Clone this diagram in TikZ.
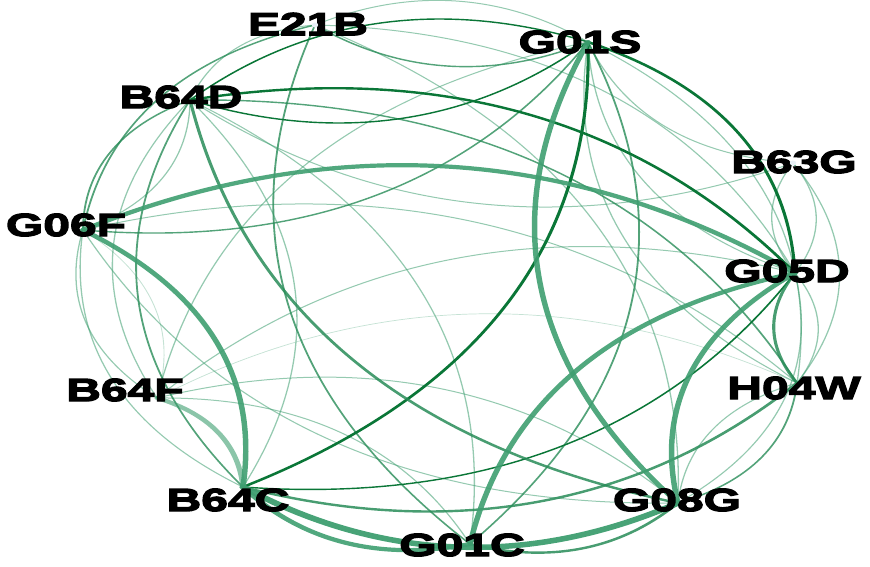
\documentclass[tikz,border=0pt]{standalone}
\usepackage{fontspec}
\newfontfamily\labfont[FakeStretch=1.5,FakeBold=4]{Liberation Sans Bold}
\definecolor{gdk}{RGB}{10,118,55}
\definecolor{gmd}{RGB}{40,140,88}
\definecolor{glt}{RGB}{62,158,112}
\definecolor{dotc}{RGB}{232,240,246}
\tikzset{
  ebase/.style={line cap=round},
  eFaint/.style={ebase, draw=glt, line width=0.7pt, draw opacity=0.3},
  eLight/.style={ebase, draw=glt, line width=1pt, draw opacity=0.55},
  eMed/.style={ebase, draw=gmd, line width=1.4pt, draw opacity=0.8},
  eMedThick/.style={ebase, draw=gmd, line width=2.4pt, draw opacity=0.85},
  eDark/.style={ebase, draw=gdk, line width=1.4pt},
  eDarkThick/.style={ebase, draw=gdk, line width=2.4pt},
  eThick/.style={ebase, draw=glt, line width=4.2pt, draw opacity=0.9},
  eVThick/.style={ebase, draw=glt, line width=5.5pt, draw opacity=0.95},
  eThickLight/.style={ebase, draw=glt, line width=4pt, draw opacity=0.6},
  lab/.style={font=\labfont\fontsize{32}{32}\selectfont, text=black, inner sep=0pt},
  ndot/.style={fill=dotc},
  bL/.style={bend left=32},
  bR/.style={bend right=32}
}
\begin{document}
\begin{tikzpicture}[x=1pt,y=1pt]
\useasboundingbox (0,0) rectangle (870,-566);
\begin{scope}[transform canvas={xscale=1.3}]
  \coordinate (E)  at (242.3,-25);
  \coordinate (S)  at (452.3,-42);
  \coordinate (D)  at (146.2,-100);
  \coordinate (BG) at (610.0,-163);
  \coordinate (F)  at (63.8,-230);
  \coordinate (GD) at (611.5,-273);
  \coordinate (BF) at (120.8,-398);
  \coordinate (H)  at (613.1,-383);
  \coordinate (C)  at (186.9,-487);
  \coordinate (GG) at (521.5,-503);
  \coordinate (GC) at (361.5,-544);
  % faint and light edges
  \draw[eFaint] (F) to[bL] (BF);
  \draw[eFaint] (BF) to[bL] (H);
  \draw[eLight] (F) to[bR] (BF);
  \draw[eLight] (S) to[bR] (E);
  \draw[eLight] (E) to[bR] (D);
  \draw[eLight] (D) to[bL] (F);
  \draw[eLight] (GD) to[bR] (BG);
  \draw[eLight] (GD) to[bL] (BG);
  \draw[eLight] (GD) to[bL] (H);
  \draw[eLight] (S) to[bL] (H);
  \draw[eLight] (S) to[bR] (H);
  \draw[eLight] (BG) to[bL] (S);
  \draw[eLight] (F) to[bL] (H);
  \draw[eLight] (F) to[bR] (C);
  \draw[eLight] (D) to[bL] (C);
  \draw[eLight] (D) to[bR] (BF);
  \draw[eLight] (BF) to[bL] (GG);
  \draw[eLight] (S) to[bR] (BF);
  \draw[eLight] (GD) to[bR] (BF);
  \draw[eLight] (E) to[bL] (GD);
  \draw[eLight] (BG) to[bL] (D);
  \draw[eLight] (F) to[bR] (GG);
  \draw[eLight] (BF) to[bL] (GC);
  \draw[eLight] (D) to[bL] (GC);
  \draw[eLight] (GD) to[bL] (GG);
  \draw[eLight] (BG) to[bL] (H);
  \draw[eLight] (E) to[bL] (GG);
  \draw[eLight] (GG) to[bL] (H);
  \draw[eLight] (GD) to[bL] (S);
  % medium edges
  \draw[eMed] (S) to[bL] (E);
  \draw[eMed] (E) to[bR] (F);
  \draw[eMed] (D) to[bR] (F);
  \draw[eMed] (D) to[bR] (C);
  \draw[eMed] (D) to[bL] (H);
  \draw[eMed] (S) to[bL] (GC);
  \draw[eMed] (S) to[bL] (F);
  \draw[eMed] (E) to[bR] (GC);
  \draw[eMed] (GG) to[bR] (H);
  % dark edges
  \draw[eDark] (S) to[bR] (D);
  \draw[eDark] (S) to[bL] (D);
  \draw[eDark] (GD) to[bL] (C);
  \draw[eDarkThick] (GD) to[bR] (D);
  \draw[eDarkThick] (GD) to[bR] (S);
  \draw[eDarkThick] (S) to[bL] (C);
  % thicker edges
  \draw[eMedThick] (D) to[bR] (GG);
  \draw[eMedThick] (GC) to[bR] (GG);
  \draw[eMedThick] (GD) to[bR] (H);
  \draw[eMedThick] (C) to[bR] (H);
  \draw[eThickLight] (BF) to[bL] (C);
  \draw[eThick] (S) to[bR] (GG);
  \draw[eThick] (GD) to[bR] (GC);
  \draw[eThick] (C) to[bR] (GC);
  \draw[eThick] (F) to[bL] (C);
  \draw[eThick] (GD) to[bR] (GG);
  \draw[eThick] (GD) to[bR] (F);
  \draw[eVThick] (C) to[bR] (GG);
\end{scope}
\node[lab] (tE)  at (308,-24)  {E21B};
\node[lab] (tS)  at (580,-42)  {G01S};
\node[lab] (tD)  at (181,-97)  {B64D};
\node[lab] (tBG) at (794,-162) {B63G};
\node[lab] (tF)  at (66,-225)  {G06F};
\node[lab] (tGD) at (787,-271) {G05D};
\node[lab] (tBF) at (125,-390) {B64F};
\node[lab] (tH)  at (794,-388) {H04W};
\node[lab] (tC)  at (228,-500) {B64C};
\node[lab] (tGG) at (677,-500) {G08G};
\node[lab] (tGC) at (462,-545) {G01C};
\begin{scope}[transform canvas={xscale=1.3}]
  \foreach \n in {E,BG} \fill[ndot] (\n) circle (2.5pt);
\end{scope}
\end{tikzpicture}
\end{document}
